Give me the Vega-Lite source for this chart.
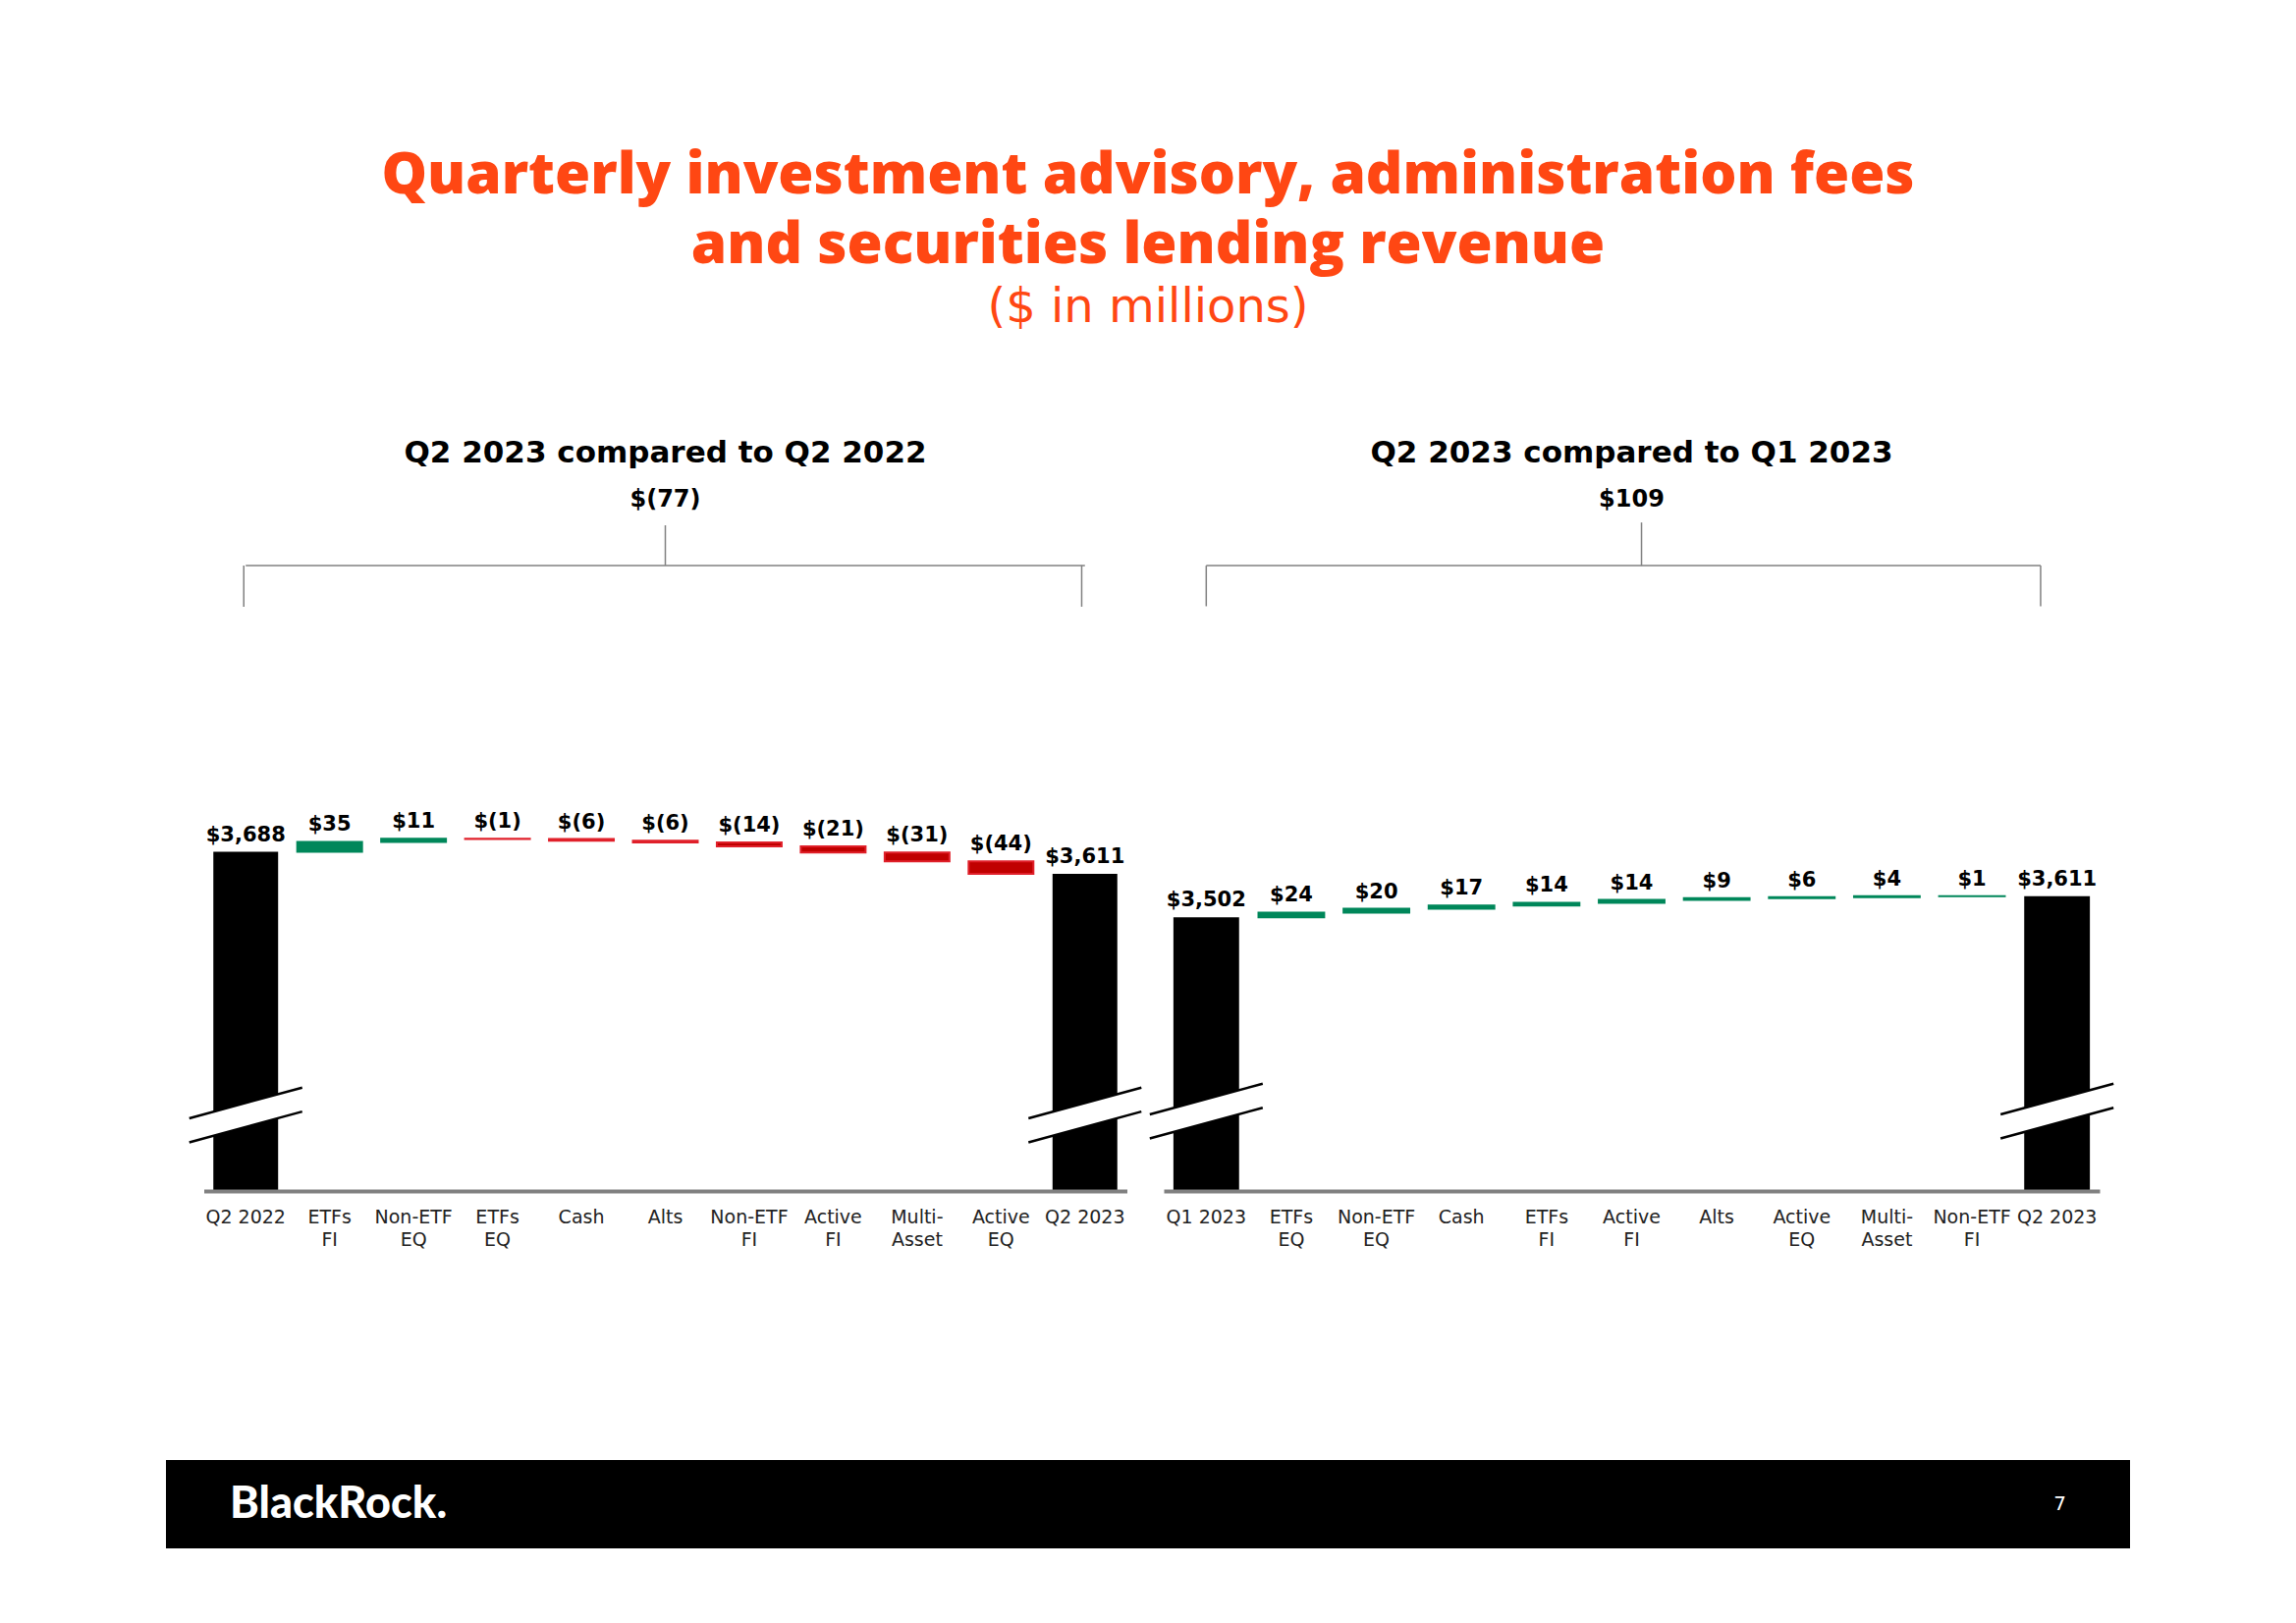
{
  "$schema": "https://vega.github.io/schema/vega-lite/v6.json",
  "background": "white",
  "padding": {"left": 169, "top": 149, "right": 10, "bottom": 10},
  "config": {
    "view": {"stroke": null},
    "axisY": {"labels": false, "ticks": false, "domain": false, "grid": false}
  },
  "title": {
    "text": ["Quarterly investment advisory, administration fees", "and securities lending revenue"],
    "subtitle": "($ in millions)",
    "anchor": "middle",
    "font": "Open Sans",
    "fontSize": 58.5,
    "fontWeight": 800,
    "color": "#FF4713",
    "lineHeight": 71,
    "subtitleFont": "DejaVu Sans",
    "subtitleFontSize": 48,
    "subtitleFontWeight": "normal",
    "subtitleColor": "#FF4713",
    "subtitlePadding": 10,
    "offset": 107
  },
  "datasets": {
    "left": [
      {"cat": "Q2 2022", "kind": "total", "start": null, "end": 3688, "label": "$3,688"},
      {"cat": "ETFs|FI", "kind": "delta", "start": 3688, "end": 3723, "label": "$35"},
      {"cat": "Non-ETF|EQ", "kind": "delta", "start": 3723, "end": 3734, "label": "$11"},
      {"cat": "ETFs|EQ", "kind": "delta", "start": 3734, "end": 3733, "label": "$(1)"},
      {"cat": "Cash", "kind": "delta", "start": 3733, "end": 3727, "label": "$(6)"},
      {"cat": "Alts", "kind": "delta", "start": 3727, "end": 3721, "label": "$(6)"},
      {"cat": "Non-ETF|FI", "kind": "delta", "start": 3721, "end": 3707, "label": "$(14)"},
      {"cat": "Active|FI", "kind": "delta", "start": 3707, "end": 3686, "label": "$(21)"},
      {"cat": "Multi-|Asset", "kind": "delta", "start": 3686, "end": 3655, "label": "$(31)"},
      {"cat": "Active|EQ", "kind": "delta", "start": 3655, "end": 3611, "label": "$(44)"},
      {"cat": "Q2 2023", "kind": "total", "start": null, "end": 3611, "label": "$3,611"}
    ],
    "right": [
      {"cat": "Q1 2023", "kind": "total", "start": null, "end": 3502, "label": "$3,502"},
      {"cat": "ETFs|EQ", "kind": "delta", "start": 3502, "end": 3526, "label": "$24"},
      {"cat": "Non-ETF|EQ", "kind": "delta", "start": 3526, "end": 3546, "label": "$20"},
      {"cat": "Cash", "kind": "delta", "start": 3546, "end": 3563, "label": "$17"},
      {"cat": "ETFs|FI", "kind": "delta", "start": 3563, "end": 3577, "label": "$14"},
      {"cat": "Active|FI", "kind": "delta", "start": 3577, "end": 3591, "label": "$14"},
      {"cat": "Alts", "kind": "delta", "start": 3591, "end": 3600, "label": "$9"},
      {"cat": "Active|EQ", "kind": "delta", "start": 3600, "end": 3606, "label": "$6"},
      {"cat": "Multi-|Asset", "kind": "delta", "start": 3606, "end": 3610, "label": "$4"},
      {"cat": "Non-ETF|FI", "kind": "delta", "start": 3610, "end": 3611, "label": "$1"},
      {"cat": "Q2 2023", "kind": "total", "start": null, "end": 3611, "label": "$3,611"}
    ],
    "leftSpan": [{"from": "Q2 2022", "to": "Q2 2023", "mid": "Alts"}],
    "rightSpan": [{"from": "Q1 2023", "to": "Q2 2023", "mid": "Active|FI"}],
    "footer": [{"pos": "L", "t": "BlackRock."}, {"pos": "R", "t": "7"}]
  },
  "spacing": 215,
  "vconcat": [
    {
      "spacing": 37.5,
      "bounds": "flush",
      "hconcat": [
        {
          "width": 1,
          "height": 687,
          "data": {"values": []},
          "mark": {"type": "point", "opacity": 0},
          "encoding": {}
        },
        {
          "width": 940,
          "height": 687,
          "title": {"text": "Q2 2023 compared to Q2 2022", "subtitle": "$(77)", "frame": "group", "anchor": "middle", "font": "DejaVu Sans", "fontSize": 31, "fontWeight": "bold", "color": "#000000", "subtitleFont": "DejaVu Sans", "subtitleFontSize": 24, "subtitleFontWeight": "bold", "subtitleColor": "#000000", "subtitlePadding": 19, "offset": 4},
          "data": {"name": "left"},
          "encoding": {
            "x": {
              "field": "cat", "type": "nominal",
              "scale": {"domain": ["Q2 2022", "ETFs|FI", "Non-ETF|EQ", "ETFs|EQ", "Cash", "Alts", "Non-ETF|FI", "Active|FI", "Multi-|Asset", "Active|EQ", "Q2 2023"], "paddingInner": 0.228, "paddingOuter": 0.114},
              "axis": {"title": null, "labelExpr": "split(datum.value, '|')", "labelAngle": 0, "labelFont": "DejaVu Sans", "labelFontSize": 19, "labelColor": "#222222", "labelPadding": 17, "labelLineHeight": 23, "ticks": false, "domainColor": "#808080", "domainWidth": 4, "zindex": 1, "labelBaseline": "top"}
            }
          },
          "layer": [
            {"transform": [{"filter": "datum.kind == 'total'"}], "mark": {"type": "bar", "color": "#000000"},
             "encoding": {
               "y": {"field": "end", "type": "quantitative", "title": null, "scale": {"domain": [2497, 4866], "zero": false, "nice": false}},
               "y2": {"datum": 2497}}},
            {"transform": [{"filter": "datum.kind == 'delta'"}], "mark": {"type": "bar", "strokeWidth": 2},
             "encoding": {"y": {"field": "start", "type": "quantitative", "title": null}, "y2": {"field": "end"},
               "fill": {"condition": {"test": "datum.end >= datum.start", "value": "#00875A"}, "value": "#C00000"},
               "stroke": {"condition": {"test": "datum.end >= datum.start", "value": "#00875A"}, "value": "#E0202A"}}},
            {"transform": [{"filter": "datum.kind == 'total'"}], "mark": {"type": "point", "shape": "M-1,0.06L1,-0.485L1,-0.06L-1,0.485Z", "size": 13225, "filled": true, "fill": "#ffffff", "opacity": 1, "strokeWidth": 0},
             "encoding": {"y": {"datum": 2764, "title": null}}},
            {"transform": [{"filter": "datum.kind == 'total'"}], "mark": {"type": "point", "shape": "M-1,0.06L1,-0.485M-1,0.485L1,-0.06", "size": 13225, "filled": false, "stroke": "#000000", "strokeWidth": 2.5, "opacity": 1},
             "encoding": {"y": {"datum": 2764, "title": null}}},
            {"transform": [{"filter": "datum.kind == 'total' || datum.end >= datum.start"}], "mark": {"type": "text", "font": "DejaVu Sans", "fontWeight": "bold", "fontSize": 21, "dy": -11, "baseline": "alphabetic", "align": "center", "color": "#000000"},
             "encoding": {"y": {"field": "end", "type": "quantitative", "title": null}, "text": {"field": "label"}}},
            {"transform": [{"filter": "datum.kind == 'delta' && datum.end < datum.start"}], "mark": {"type": "text", "font": "DejaVu Sans", "fontWeight": "bold", "fontSize": 21, "dy": -11, "baseline": "alphabetic", "align": "center", "color": "#000000"},
             "encoding": {"y": {"field": "start", "type": "quantitative", "title": null}, "text": {"field": "label"}}},
            {"data": {"name": "leftSpan"}, "mark": {"type": "rule", "color": "#808080", "strokeWidth": 1.5},
             "encoding": {"x": {"field": "from", "type": "nominal", "bandPosition": 0.5, "title": null}, "x2": {"field": "to", "bandPosition": 0.5}, "y": {"datum": 4694, "title": null}}},
            {"data": {"name": "leftSpan"}, "mark": {"type": "rule", "color": "#808080", "strokeWidth": 1.5},
             "encoding": {"x": {"field": "from", "type": "nominal", "bandPosition": 0.47, "title": null}, "y": {"datum": 4694, "title": null}, "y2": {"datum": 4549}}},
            {"data": {"name": "leftSpan"}, "mark": {"type": "rule", "color": "#808080", "strokeWidth": 1.5},
             "encoding": {"x": {"field": "to", "type": "nominal", "bandPosition": 0.45, "title": null}, "y": {"datum": 4694, "title": null}, "y2": {"datum": 4549}}},
            {"data": {"name": "leftSpan"}, "mark": {"type": "rule", "color": "#808080", "strokeWidth": 1.5},
             "encoding": {"x": {"field": "mid", "type": "nominal", "bandPosition": 0.5, "title": null}, "y": {"datum": 4835, "title": null}, "y2": {"datum": 4694}}}
          ]
        },
        {
          "width": 953,
          "height": 687,
          "title": {"text": "Q2 2023 compared to Q1 2023", "subtitle": "$109", "frame": "group", "anchor": "middle", "font": "DejaVu Sans", "fontSize": 31, "fontWeight": "bold", "color": "#000000", "subtitleFont": "DejaVu Sans", "subtitleFontSize": 24, "subtitleFontWeight": "bold", "subtitleColor": "#000000", "subtitlePadding": 19, "offset": 4},
          "data": {"name": "right"},
          "encoding": {
            "x": {
              "field": "cat", "type": "nominal",
              "scale": {"domain": ["Q1 2023", "ETFs|EQ", "Non-ETF|EQ", "Cash", "ETFs|FI", "Active|FI", "Alts", "Active|EQ", "Multi-|Asset", "Non-ETF|FI", "Q2 2023"], "paddingInner": 0.228, "paddingOuter": 0.114},
              "axis": {"title": null, "labelExpr": "split(datum.value, '|')", "labelAngle": 0, "labelFont": "DejaVu Sans", "labelFontSize": 19, "labelColor": "#222222", "labelPadding": 17, "labelLineHeight": 23, "ticks": false, "domainColor": "#808080", "domainWidth": 4, "zindex": 1, "labelBaseline": "top"}
            }
          },
          "layer": [
            {"transform": [{"filter": "datum.kind == 'total'"}], "mark": {"type": "bar", "color": "#000000"},
             "encoding": {"y": {"field": "end", "type": "quantitative", "title": null, "scale": {"domain": [2094, 5564], "zero": false, "nice": false}}, "y2": {"datum": 2094}}},
            {"transform": [{"filter": "datum.kind == 'delta'"}], "mark": {"type": "bar", "strokeWidth": 2},
             "encoding": {"y": {"field": "start", "type": "quantitative", "title": null}, "y2": {"field": "end"},
               "fill": {"condition": {"test": "datum.end >= datum.start", "value": "#00875A"}, "value": "#C00000"},
               "stroke": {"condition": {"test": "datum.end >= datum.start", "value": "#00875A"}, "value": "#E0202A"}}},
            {"transform": [{"filter": "datum.kind == 'total'"}], "mark": {"type": "point", "shape": "M-1,0.06L1,-0.485L1,-0.06L-1,0.485Z", "size": 13225, "filled": true, "fill": "#ffffff", "opacity": 1, "strokeWidth": 0},
             "encoding": {"y": {"datum": 2505, "title": null}}},
            {"transform": [{"filter": "datum.kind == 'total'"}], "mark": {"type": "point", "shape": "M-1,0.06L1,-0.485M-1,0.485L1,-0.06", "size": 13225, "filled": false, "stroke": "#000000", "strokeWidth": 2.5, "opacity": 1},
             "encoding": {"y": {"datum": 2505, "title": null}}},
            {"transform": [{"filter": "datum.kind == 'total' || datum.end >= datum.start"}], "mark": {"type": "text", "font": "DejaVu Sans", "fontWeight": "bold", "fontSize": 21, "dy": -11, "baseline": "alphabetic", "align": "center", "color": "#000000"},
             "encoding": {"y": {"field": "end", "type": "quantitative", "title": null}, "text": {"field": "label"}}},
            {"data": {"name": "rightSpan"}, "mark": {"type": "rule", "color": "#808080", "strokeWidth": 1.5},
             "encoding": {"x": {"field": "from", "type": "nominal", "bandPosition": 0.5, "title": null}, "x2": {"field": "to", "bandPosition": 0.25}, "y": {"datum": 5311, "title": null}}},
            {"data": {"name": "rightSpan"}, "mark": {"type": "rule", "color": "#808080", "strokeWidth": 1.5},
             "encoding": {"x": {"field": "from", "type": "nominal", "bandPosition": 0.5, "title": null}, "y": {"datum": 5311, "title": null}, "y2": {"datum": 5102}}},
            {"data": {"name": "rightSpan"}, "mark": {"type": "rule", "color": "#808080", "strokeWidth": 1.5},
             "encoding": {"x": {"field": "to", "type": "nominal", "bandPosition": 0.25, "title": null}, "y": {"datum": 5311, "title": null}, "y2": {"datum": 5102}}},
            {"data": {"name": "rightSpan"}, "mark": {"type": "rule", "color": "#808080", "strokeWidth": 1.5},
             "encoding": {"x": {"field": "mid", "type": "nominal", "bandPosition": 0.65, "title": null}, "y": {"datum": 5533, "title": null}, "y2": {"datum": 5311}}}
          ]
        }
      ]
    },
    {
      "width": 2000,
      "height": 90,
      "view": {"fill": "#000000", "stroke": null},
      "data": {"name": "footer"},
      "encoding": {
        "x": {"field": "pos", "type": "nominal", "scale": {"type": "point", "domain": ["L", "R"], "padding": 0.0348}, "axis": null}
      },
      "layer": [
        {"transform": [{"filter": "datum.pos == 'L'"}], "mark": {"type": "text", "align": "left", "baseline": "middle", "font": "Lato", "fontWeight": 900, "fontSize": 45, "color": "#ffffff"},
         "encoding": {"text": {"field": "t"}}},
        {"transform": [{"filter": "datum.pos == 'R'"}], "mark": {"type": "text", "align": "right", "baseline": "middle", "font": "DejaVu Sans", "fontSize": 20, "color": "#ffffff"},
         "encoding": {"text": {"field": "t"}}}
      ]
    }
  ]
}
